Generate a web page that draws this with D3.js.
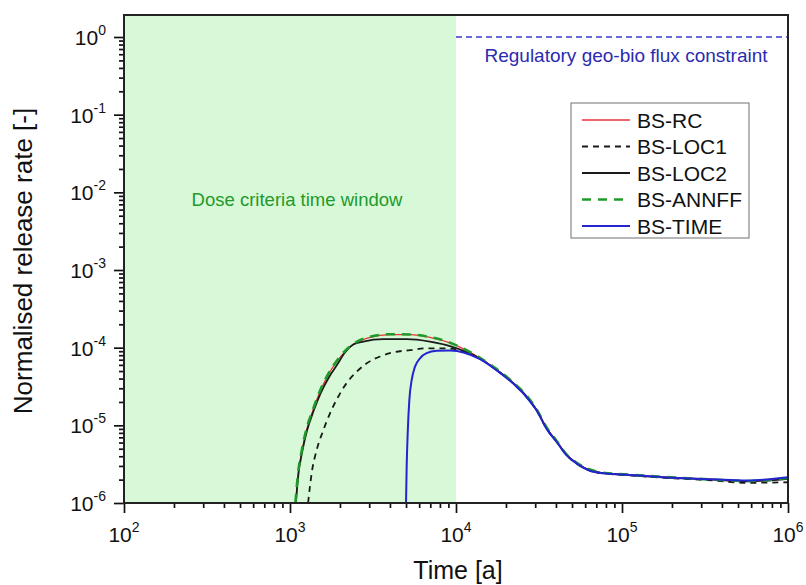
<!DOCTYPE html>
<html>
<head>
<meta charset="utf-8">
<script src="https://cdnjs.cloudflare.com/ajax/libs/d3/7.8.5/d3.min.js"></script>
<style>
  body { margin: 0; background: #fff; }
  svg { display: block; font-family: "Liberation Sans", Arial, sans-serif; }
</style>
</head>
<body>
<script>
// series values: [time (a), normalised release rate]
var bsRC = [
  [1081, 1e-6], [1122, 2.4e-6], [1175, 4.4e-6], [1259, 8.7e-6], [1381, 1.6e-5],
  [1516, 2.7e-5], [1702, 4.5e-5], [1910, 6.6e-5], [2193, 9.3e-5], [2520, 1.17e-4],
  [3034, 1.36e-4], [4000, 1.47e-4], [5280, 1.47e-4], [6970, 1.36e-4], [9200, 1.15e-4],
  [13960, 7.3e-5], [17590, 5.2e-5], [22130, 3.5e-5], [26650, 2.35e-5], [30620, 1.58e-5],
  [35160, 9.2e-6], [40440, 6.2e-6], [46460, 4.17e-6], [53370, 3.26e-6], [64150, 2.63e-6],
  [77150, 2.43e-6], [101800, 2.33e-6], [177000, 2.15e-6], [355000, 2.0e-6], [564000, 1.9e-6],
  [1e6, 2.1e-6]
];

var bsLOC1 = [
  [1285, 1e-6], [1351, 2.43e-6], [1449, 4.84e-6], [1589, 8.7e-6], [1742, 1.43e-5],
  [1955, 2.35e-5], [2193, 3.5e-5], [2520, 4.9e-5], [2898, 6.3e-5], [3485, 7.7e-5],
  [4190, 8.7e-5], [5280, 9.3e-5], [6650, 9.8e-5], [8380, 9.8e-5], [10000, 9.5e-5],
  [13960, 7.2e-5], [17590, 5.15e-5], [22130, 3.45e-5], [26650, 2.3e-5], [30620, 1.55e-5],
  [35160, 9.0e-6], [40440, 6.1e-6], [46460, 4.1e-6], [53370, 3.2e-6], [64150, 2.6e-6],
  [77150, 2.4e-6], [101800, 2.3e-6], [177000, 2.12e-6], [355000, 1.95e-6], [564000, 1.82e-6],
  [1e6, 1.85e-6]
];

var bsLOC2 = [
  [1085, 1e-6], [1125, 2.4e-6], [1180, 4.4e-6], [1265, 8.5e-6], [1390, 1.55e-5],
  [1530, 2.6e-5], [1720, 4.2e-5], [1930, 6.1e-5], [2094, 8.1e-5], [2404, 1.1e-4],
  [2764, 1.2e-4], [3648, 1.29e-4], [5045, 1.29e-4], [6970, 1.2e-4], [9200, 1.05e-4],
  [13960, 7.2e-5], [17590, 5.15e-5], [22130, 3.5e-5], [26650, 2.35e-5], [30620, 1.57e-5],
  [35160, 9.1e-6], [40440, 6.15e-6], [46460, 4.15e-6], [53370, 3.24e-6], [64150, 2.62e-6],
  [77150, 2.42e-6], [101800, 2.32e-6], [177000, 2.14e-6], [355000, 2.0e-6], [564000, 1.9e-6],
  [1e6, 2.05e-6]
];

var bsANNFF = [
  [1078, 1e-6], [1120, 2.5e-6], [1172, 4.5e-6], [1255, 8.9e-6], [1378, 1.62e-5],
  [1512, 2.75e-5], [1700, 4.6e-5], [1905, 6.7e-5], [2190, 9.5e-5], [2520, 1.19e-4],
  [3030, 1.38e-4], [4000, 1.49e-4], [5280, 1.48e-4], [6970, 1.37e-4], [9200, 1.16e-4],
  [13960, 7.4e-5], [17590, 5.3e-5], [22130, 3.55e-5], [26650, 2.4e-5], [30620, 1.6e-5],
  [35160, 9.4e-6], [40440, 6.3e-6], [46460, 4.2e-6], [53370, 3.3e-6], [64150, 2.7e-6],
  [77150, 2.45e-6], [101800, 2.35e-6], [177000, 2.17e-6], [355000, 2.0e-6], [564000, 1.92e-6],
  [1e6, 2.1e-6]
];

var bsTIME = [
  [5000, 1e-6], [5045, 2.95e-6], [5117, 7.9e-6], [5236, 2.13e-5], [5410, 3.85e-5],
  [5663, 5.7e-5], [6070, 7.3e-5], [6650, 8.5e-5], [7650, 9.1e-5], [9200, 9.2e-5],
  [13960, 7.1e-5], [17590, 5.1e-5], [22130, 3.45e-5], [26650, 2.3e-5], [30620, 1.55e-5],
  [35160, 9.0e-6], [40440, 6.1e-6], [46460, 4.1e-6], [53370, 3.22e-6], [64150, 2.6e-6],
  [77150, 2.42e-6], [101800, 2.33e-6], [177000, 2.15e-6], [355000, 2.02e-6], [564000, 1.95e-6],
  [1e6, 2.15e-6]
];

var seriesNames = ['BS-RC', 'BS-LOC1', 'BS-LOC2', 'BS-ANNFF', 'BS-TIME'];
var xTickExps = [2, 3, 4, 5, 6];
var yTickExps = [0, -1, -2, -3, -4, -5, -6];
var doseWindow = [1e2, 1e4];
var fluxConstraint = 1;
var fluxSpan = [1e4, 1e6];

var Chart = {

  width: 806,
  height: 585,
  plot: { left: 124, right: 788, top: 15, bottom: 503 },

  styles: [
    { color: '#e8333a', width: 1.3, dash: null },
    { color: '#1a1a1a', width: 1.8, dash: '6,5' },
    { color: '#1a1a1a', width: 1.8, dash: null },
    { color: '#1f9a2a', width: 2.6, dash: '9,7' },
    { color: '#2424d0', width: 2, dash: null }
  ],

  init: function () {
    var p = this.plot;

    this.svg = d3.select('body').append('svg')
      .attr('width', this.width)
      .attr('height', this.height);

    this.x = d3.scaleLog().domain([1e2, 1e6]).range([p.left, p.right]);
    this.y = d3.scaleLog().domain([1e-6, 1.92]).range([p.bottom, p.top]);

    this.svg.append('clipPath').attr('id', 'plotClip')
      .append('rect')
      .attr('x', p.left).attr('y', p.top)
      .attr('width', p.right - p.left).attr('height', p.bottom - p.top);

    this.drawBackground();
    this.drawCurves();
    this.drawAxes();
    this.drawLegend();
    this.drawTitles();
  },

  drawBackground: function () {
    var x = this.x, y = this.y, p = this.plot;

    this.svg.append('rect')
      .attr('x', x(doseWindow[0]))
      .attr('y', p.top)
      .attr('width', x(doseWindow[1]) - x(doseWindow[0]))
      .attr('height', p.bottom - p.top)
      .style('fill', '#d7f9d7');

    this.svg.append('text')
      .attr('x', (x(doseWindow[0]) + x(doseWindow[1])) / 2 + 7)
      .attr('y', 206)
      .attr('text-anchor', 'middle')
      .style('font-size', '18.5px')
      .style('fill', '#22992b')
      .text('Dose criteria time window');

    this.svg.append('line')
      .attr('x1', x(fluxSpan[0])).attr('x2', x(fluxSpan[1]))
      .attr('y1', y(fluxConstraint)).attr('y2', y(fluxConstraint))
      .style('stroke', '#3a3acc')
      .style('stroke-width', 1.4)
      .style('stroke-dasharray', '6,4');

    this.svg.append('text')
      .attr('x', 626)
      .attr('y', 62)
      .attr('text-anchor', 'middle')
      .style('font-size', '19px')
      .style('fill', '#2b2bb0')
      .text('Regulatory geo-bio flux constraint');
  },

  drawCurves: function () {
    var x = this.x, y = this.y;
    var line = d3.line()
      .x(function (d) { return x(d[0]); })
      .y(function (d) { return y(d[1]); })
      .curve(d3.curveMonotoneX);

    var g = this.svg.append('g').attr('clip-path', 'url(#plotClip)');
    var all = [bsRC, bsLOC1, bsLOC2, bsANNFF, bsTIME];

    all.forEach(function (data, i) {
      var s = this.styles[i];
      g.append('path')
        .attr('d', line(data))
        .style('fill', 'none')
        .style('stroke', s.color)
        .style('stroke-width', s.width)
        .style('stroke-dasharray', s.dash);
    }, this);
  },

  minorTicks: function (exps) {
    var out = [];
    exps.forEach(function (e) {
      for (var k = 2; k <= 9; k++) out.push(k * Math.pow(10, e));
    });
    return out;
  },

  drawAxes: function () {
    var x = this.x, y = this.y, p = this.plot, svg = this.svg;

    // minor ticks
    var xMinor = this.minorTicks([2, 3, 4, 5]);
    var yMinor = this.minorTicks([-6, -5, -4, -3, -2, -1, 0]).filter(function (v) { return v <= 1.92; });

    svg.append('g').attr('transform', 'translate(0,' + p.bottom + ')')
      .call(d3.axisBottom(x).tickValues(xMinor).tickSize(5).tickFormat(''))
      .call(function (g) { g.select('.domain').remove(); });
    svg.append('g').attr('transform', 'translate(' + p.left + ',0)')
      .call(d3.axisLeft(y).tickValues(yMinor).tickSize(5).tickFormat(''))
      .call(function (g) { g.select('.domain').remove(); });

    // major ticks
    var xAxis = svg.append('g').attr('transform', 'translate(0,' + p.bottom + ')')
      .call(d3.axisBottom(x).tickValues(xTickExps.map(function (e) { return Math.pow(10, e); }))
        .tickSize(10).tickFormat(''));
    xAxis.select('.domain').remove();

    var yAxis = svg.append('g').attr('transform', 'translate(' + p.left + ',0)')
      .call(d3.axisLeft(y).tickValues(yTickExps.map(function (e) { return Math.pow(10, e); }))
        .tickSize(10).tickFormat(''));
    yAxis.select('.domain').remove();

    svg.selectAll('.tick line').style('stroke', '#111').style('stroke-width', 1.7);

    // power-of-ten labels
    xTickExps.forEach(function (e) {
      var t = svg.append('text')
        .attr('x', x(Math.pow(10, e)))
        .attr('y', p.bottom + 39)
        .attr('text-anchor', 'middle')
        .style('font-size', '21px')
        .style('fill', '#111');
      t.append('tspan').text('10');
      t.append('tspan').attr('dy', -10).style('font-size', '14px').text(e);
    });

    yTickExps.forEach(function (e) {
      var t = svg.append('text')
        .attr('x', p.left - 18)
        .attr('y', y(Math.pow(10, e)) + 8)
        .attr('text-anchor', 'end')
        .style('font-size', '21px')
        .style('fill', '#111');
      t.append('tspan').text('10');
      t.append('tspan').attr('dy', -10).style('font-size', '14px').text(e === 0 ? '0' : '-' + (-e));
    });

    // frame
    svg.append('rect')
      .attr('x', p.left).attr('y', p.top)
      .attr('width', p.right - p.left).attr('height', p.bottom - p.top)
      .style('fill', 'none')
      .style('stroke', '#222')
      .style('stroke-width', 2);
  },

  drawLegend: function () {
    var box = { x: 571, y: 103, w: 178, h: 135 };
    var g = this.svg.append('g');

    g.append('rect')
      .attr('x', box.x).attr('y', box.y)
      .attr('width', box.w).attr('height', box.h)
      .style('fill', '#fff')
      .style('stroke', '#888')
      .style('stroke-width', 1.2);

    seriesNames.forEach(function (name, i) {
      var s = this.styles[i];
      var cy = 120 + i * 26.5;
      g.append('line')
        .attr('x1', 582).attr('x2', 630)
        .attr('y1', cy).attr('y2', cy)
        .style('stroke', s.color)
        .style('stroke-width', s.width)
        .style('stroke-dasharray', s.dash);
      g.append('text')
        .attr('x', 637)
        .attr('y', cy + 7.5)
        .style('font-size', '21px')
        .style('fill', '#111')
        .text(name);
    }, this);
  },

  drawTitles: function () {
    this.svg.append('text')
      .attr('x', 458)
      .attr('y', 579)
      .attr('text-anchor', 'middle')
      .style('font-size', '25px')
      .style('fill', '#111')
      .text('Time [a]');

    this.svg.append('text')
      .attr('transform', 'translate(32,261) rotate(-90)')
      .attr('text-anchor', 'middle')
      .style('font-size', '26px')
      .style('fill', '#111')
      .text('Normalised release rate [-]');
  }
};

Chart.init();
</script>
</body>
</html>
